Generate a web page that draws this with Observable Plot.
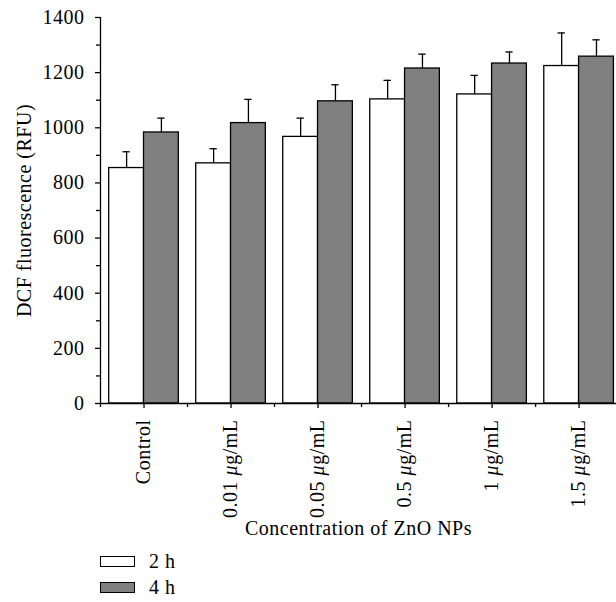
<!DOCTYPE html>
<html>
<head>
<meta charset="utf-8">
<script src="https://cdn.jsdelivr.net/npm/d3@7"></script>
<script src="https://cdn.jsdelivr.net/npm/@observablehq/plot@0.6"></script>
<style>
  body { margin: 0; background: white; font-family: "Liberation Serif", serif; }
  #legend { margin-left: 100px; font-size: 20px; letter-spacing: 0.5px; color: black; }
  .item { display: flex; align-items: center; height: 26px; }
  .sw { width: 33px; height: 9px; border: 1.3px solid black; margin-right: 14px; }
</style>
</head>
<body>
<div id="chart"></div>
<div id="legend"></div>
<script>
const categories = ["Control", "0.01 μg/mL", "0.05 μg/mL", "0.5 μg/mL", "1 μg/mL", "1.5 μg/mL"];
const series = ["2 h", "4 h"];
const seriesColors = ["white", "#808080"];
const mean2h = [854, 871, 967, 1103, 1121, 1224];
const err2h  = [59, 53, 68, 69, 69, 120];
const mean4h = [983, 1017, 1096, 1215, 1233, 1258];
const err4h  = [52, 86, 60, 52, 42, 61];
const yMajor = [0, 200, 400, 600, 800, 1000, 1200, 1400];
const yMinor = [100, 300, 500, 700, 900, 1100, 1300];
const xLabel = "Concentration of ZnO NPs";
const yLabel = "DCF fluorescence (RFU)";

const half = 0.4;   // bar width in category units
const cap = 0.042;  // half cap width
const rows = categories.flatMap((c, i) => [
  {cat: c, i, s: series[0], v: mean2h[i], e: err2h[i], off: -1},
  {cat: c, i, s: series[1], v: mean4h[i], e: err4h[i], off: 1}
]);
const center = d => d.i + d.off * half / 2;
const idx = d3.range(categories.length);

const chart = Plot.plot({
  width: 616,
  height: 548,
  marginLeft: 100,
  marginRight: 0,
  marginTop: 17,
  marginBottom: 145,
  style: {fontFamily: "'Liberation Serif', serif", fontSize: "20px", background: "white", color: "black", letterSpacing: "0.5px"},
  x: {domain: [-0.5, 5.43], axis: null},
  y: {domain: [0, 1400], axis: null},
  color: {domain: series, range: seriesColors},
  marks: [
    Plot.rectY(rows, {
      x1: d => d.off < 0 ? d.i - half : d.i,
      x2: d => d.off < 0 ? d.i : d.i + half,
      y1: 0, y2: "v", fill: "s", stroke: "black", strokeWidth: 1.3
    }),
    Plot.ruleX(rows, {x: center, y1: "v", y2: d => d.v + d.e, stroke: "black", strokeWidth: 1.3}),
    Plot.ruleY(rows, {y: d => d.v + d.e, x1: d => center(d) - cap, x2: d => center(d) + cap, stroke: "black", strokeWidth: 1.3}),
    Plot.ruleX([-0.5], {y1: 0, y2: 1400, stroke: "black", strokeWidth: 1.3}),
    Plot.ruleY([0], {stroke: "black", strokeWidth: 1.3}),
    Plot.axisY(yMajor, {tickSize: 5, tickPadding: 11, tickFormat: d => String(d), strokeWidth: 1.3, label: null}),
    Plot.axisY(yMinor, {tickSize: 4, tickFormat: () => "", strokeWidth: 1.3, label: null}),
    Plot.axisX(idx, {tickSize: 5, tickPadding: 11, tickRotate: -90, tickFormat: i => categories[i], strokeWidth: 1.3, label: null}),
    Plot.axisX(idx.map(i => i - 0.5), {tickSize: 4, tickFormat: () => "", strokeWidth: 1.3, label: null}),
    Plot.text([xLabel], {frameAnchor: "bottom", dy: 125, lineAnchor: "middle", textAnchor: "middle", fill: "black"}),
    Plot.text([yLabel], {frameAnchor: "left", dx: -76, rotate: -90, lineAnchor: "middle", textAnchor: "middle", fill: "black"})
  ]
});

// italic micro sign
chart.querySelectorAll("text").forEach(t => {
  if (t.textContent.includes("μ") && t.children.length === 0) {
    const parts = t.textContent.split("μ");
    t.textContent = "";
    parts.forEach((p, k) => {
      if (k > 0) {
        const sp = document.createElementNS("http://www.w3.org/2000/svg", "tspan");
        sp.setAttribute("font-style", "italic");
        sp.textContent = "μ";
        t.appendChild(sp);
      }
      t.appendChild(document.createTextNode(p));
    });
  }
});
document.getElementById("chart").appendChild(chart);

const legend = document.getElementById("legend");
series.forEach((s, k) => {
  const item = document.createElement("div");
  item.className = "item";
  const sw = document.createElement("div");
  sw.className = "sw";
  sw.style.background = seriesColors[k];
  const label = document.createElement("span");
  label.textContent = s;
  item.appendChild(sw);
  item.appendChild(label);
  legend.appendChild(item);
});
</script>
</body>
</html>
